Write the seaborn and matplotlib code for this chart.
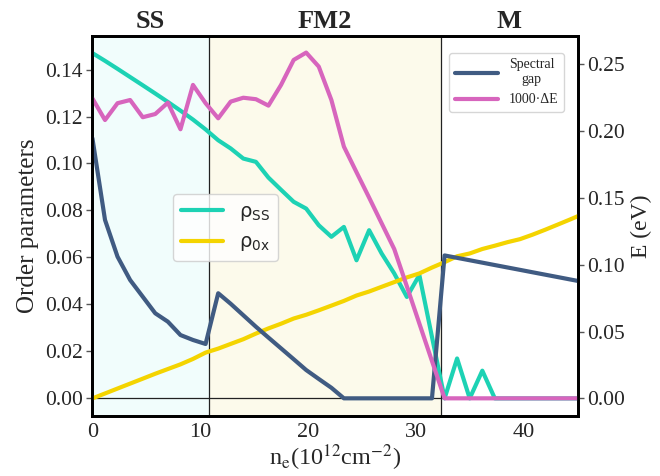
import matplotlib
matplotlib.use("Agg")
import matplotlib.pyplot as plt
import matplotlib.transforms as mtransforms
import seaborn as sns

# carrier density grid (10^12 cm^-2)
ne = [0.0, 1.17, 2.33, 3.5, 4.67, 5.83, 7.0, 8.17, 9.33, 10.5,
      11.67, 12.83, 14.0, 15.17, 16.33, 17.5, 18.67, 19.83, 21.0, 22.17,
      23.33, 24.5, 25.67, 26.83, 28.0, 29.17, 30.33, 31.5, 32.67, 33.83,
      35.0, 36.17, 37.33, 38.5, 39.67, 40.83, 42.0, 43.17, 44.33, 45.5]

# order parameters (left axis)
rho_ss = [0.1470, 0.1437, 0.1403, 0.1368, 0.1333, 0.1298, 0.1262, 0.1225, 0.1187, 0.1145,
          0.1099, 0.1064, 0.1021, 0.1007, 0.0940, 0.0888, 0.0837, 0.0808, 0.0737, 0.0688,
          0.0730, 0.0588, 0.0716, 0.0617, 0.0532, 0.0432, 0.0525, 0.0262, 0.0, 0.0170,
          0.0, 0.0118, 0.0, 0.0, 0.0, 0.0, 0.0, 0.0, 0.0, 0.0]
rho_0x = [0.0, 0.0021, 0.0042, 0.0063, 0.0084, 0.0105, 0.0125, 0.0145, 0.0168, 0.0195,
          0.0212, 0.0232, 0.0252, 0.0276, 0.0298, 0.0318, 0.0340, 0.0356, 0.0375, 0.0395,
          0.0415, 0.0438, 0.0455, 0.0475, 0.0495, 0.0515, 0.0532, 0.0557, 0.0580, 0.0605,
          0.0617, 0.0636, 0.0650, 0.0665, 0.0678, 0.0697, 0.0718, 0.0740, 0.0762, 0.0785]

# energies in eV (right axis)
gap = [0.1948, 0.1336, 0.1061, 0.0886, 0.0761, 0.0637, 0.0574, 0.0474, 0.0437, 0.0407,
       0.0787, 0.0708, 0.0622, 0.0536, 0.0455, 0.0374, 0.0293, 0.0212, 0.0145, 0.0079,
       0.0, 0.0, 0.0, 0.0, 0.0, 0.0, 0.0, 0.0, 0.1070, 0.1052,
       0.1034, 0.1016, 0.0998, 0.0980, 0.0962, 0.0944, 0.0926, 0.0908, 0.0890, 0.0872]
delta_e = [0.2246, 0.2084, 0.2210, 0.2234, 0.2105, 0.2129, 0.2214, 0.2015, 0.2347, 0.2210,
           0.2097, 0.2222, 0.2251, 0.2240, 0.2192, 0.2347, 0.2534, 0.2589, 0.2484, 0.2234,
           0.1885, 0.1693, 0.1503, 0.1311, 0.1118, 0.0839, 0.0560, 0.0279, 0.0, 0.0,
           0.0, 0.0, 0.0, 0.0, 0.0, 0.0, 0.0, 0.0, 0.0, 0.0]

# phase regions
phase_names = ["SS", "FM2", "M"]
phase_bounds = [0.0, 10.8, 32.3, 45.0]
phase_colors = ["#f1fdfc", "#fcfaeb", "white"]

sns.set_style("white")
plt.rcParams["font.family"] = ["Liberation Serif", "DejaVu Serif"]
plt.rcParams["mathtext.fontset"] = "stix"

fig, ax = plt.subplots(figsize=(6.6, 4.76), dpi=100)
fig.subplots_adjust(left=0.14, right=0.875, bottom=0.126, top=0.924)
ax2 = ax.twinx()

for i, name in enumerate(phase_names):
    ax.axvspan(phase_bounds[i], phase_bounds[i + 1], color=phase_colors[i], zorder=0, lw=0)
    if 0 < i:
        ax.axvline(phase_bounds[i], color="#222222", lw=0.9, zorder=1)
trans = mtransforms.blended_transform_factory(ax.transData, ax.transAxes)
for i, name in enumerate(phase_names):
    mid = (phase_bounds[i] + phase_bounds[i + 1]) / 2
    ax.text(mid, 1.008, name, transform=trans, ha="center", va="bottom",
            fontsize=19, fontweight="bold")
ax.axhline(0, color="#222222", lw=0.9, zorder=1)

sns.lineplot(x=ne, y=rho_ss, ax=ax, color="#1dd2b4", lw=3, label="ρ$_{\\mathrm{SS}}$", zorder=3)
sns.lineplot(x=ne, y=rho_0x, ax=ax, color="#f4d400", lw=3, label="ρ$_{\\mathrm{0x}}$", zorder=3)
sns.lineplot(x=ne, y=gap, ax=ax2, color="#405b82", lw=3, label="Spectral\ngap")
sns.lineplot(x=ne, y=delta_e, ax=ax2, color="#d765bd", lw=3, label="1000·ΔE")

ax.set_xlim(0, 45)
ax.set_ylim(-0.0075, 0.1542)
ax2.set_ylim(-0.01325, 0.2712)
ax.set_xticks([0, 10, 20, 30, 40])
ax.set_yticks([0.0, 0.02, 0.04, 0.06, 0.08, 0.10, 0.12, 0.14])
ax2.set_yticks([0.0, 0.05, 0.10, 0.15, 0.20, 0.25])

ax.set_xlabel(r"n$_{\mathrm{e}}$(10$^{12}$cm$^{-2}$)", fontsize=17.5, labelpad=0)
ax.set_ylabel("Order parameters", fontsize=18, labelpad=4)
ax2.set_ylabel("E (eV)", fontsize=17, labelpad=4)

for a in (ax, ax2):
    a.tick_params(direction="out", length=4, width=1, color="#555555", labelsize=15.5, pad=3)
    for s in a.spines.values():
        s.set_linewidth(2)
        s.set_color("black")
ax.tick_params(axis="x", labelsize=16, pad=1)

leg1 = ax.legend(loc="upper left", bbox_to_anchor=(0.166, 0.585), borderaxespad=0,
                 prop={"family": "DejaVu Sans", "size": 14, "math_fontfamily": "dejavusans"},
                 handlelength=2.2, fancybox=True)
leg2 = ax2.legend(loc="upper right", bbox_to_anchor=(0.972, 0.956), borderaxespad=0,
                  fontsize=10, handlelength=3.1, fancybox=True)
for t in leg2.get_texts():
    t.set_multialignment("center")

fig.savefig("out.png", dpi=100)
